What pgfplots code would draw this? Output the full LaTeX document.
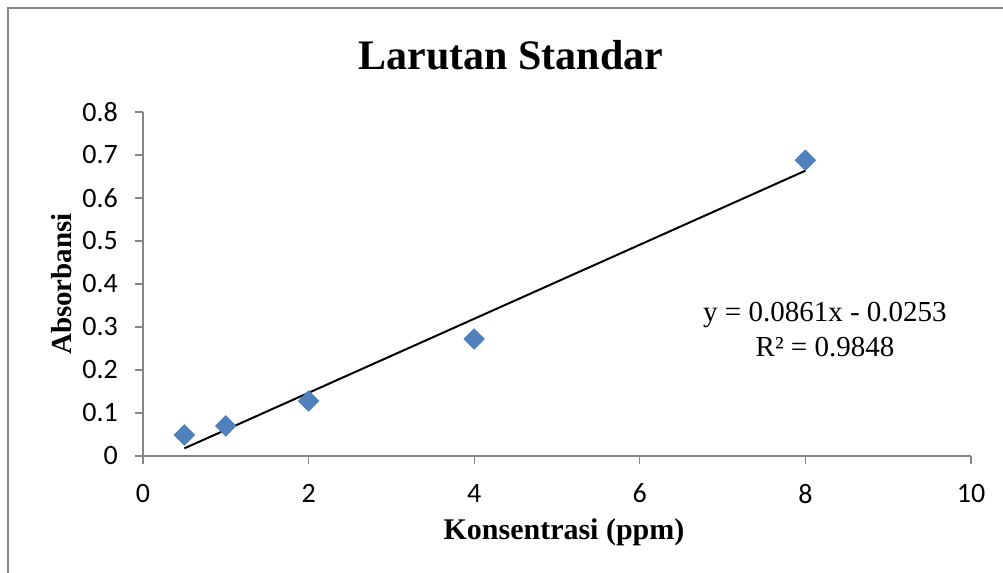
\documentclass[border=0pt]{standalone}
\usepackage{fontspec}
\setmainfont{Liberation Serif}
\newfontfamily\calibri{Carlito}
\usepackage{pgfplots}
\pgfplotsset{compat=1.18}
\definecolor{axgray}{HTML}{868686}
\definecolor{ptblue}{HTML}{4F81BD}
\begin{document}
\begin{tikzpicture}
    % page = reference frame, 1 px = 0.5 pt, origin at the axis corner
    \clip (-71.5pt,-58.5pt) rectangle (430pt,228pt);
    \draw[axgray, line width=0.8pt] (-67.5pt,-80pt) rectangle (460pt,224pt);
    \begin{axis}[
        at={(0,0)}, anchor=south west,
        scale only axis, width=414pt, height=172pt,
        xmin=0, xmax=10, ymin=0, ymax=0.8,
        xtick={0,2,...,10}, ytick={0,0.1,...,0.8},
        axis lines=left, axis line style={-, axgray, line width=0.6pt},
        tick align=outside, major tick length=4pt,
        tick style={axgray, line width=0.6pt},
        /pgf/number format/assume math mode=true,
        /pgf/number format/fixed,
        ticklabel style={font=\calibri\fontsize{14}{16}\selectfont},
        xticklabel style={yshift=-6.5pt},
        yticklabel style={xshift=-5pt},
        clip=false,
    ]
        \addplot[black, line width=1pt] coordinates {(0.5,0.0178) (8,0.6635)};
        \addplot[only marks, mark=square*, mark size=3.6pt,
                 mark options={rotate=45, fill=ptblue, draw=ptblue}] coordinates {
            (0.5,0.049)
            (1,0.070)
            (2,0.128)
            (4,0.272)
            (8,0.688)
        };
    \end{axis}
    \node[font=\fontsize{21}{24}\selectfont\bfseries] at (184pt,200.5pt) {Larutan Standar};
    \node[font=\fontsize{14.5}{17}\selectfont\bfseries, rotate=90] at (-40.5pt,86pt) {Absorbansi};
    \node[font=\fontsize{15}{18}\selectfont\bfseries] at (210.5pt,-38pt) {Konsentrasi (ppm)};
    \node[font=\fontsize{14.5}{17.5}\selectfont, align=center] at (341pt,63pt)
        {y = 0.0861x - 0.0253\\R² = 0.9848};
\end{tikzpicture}
\end{document}
